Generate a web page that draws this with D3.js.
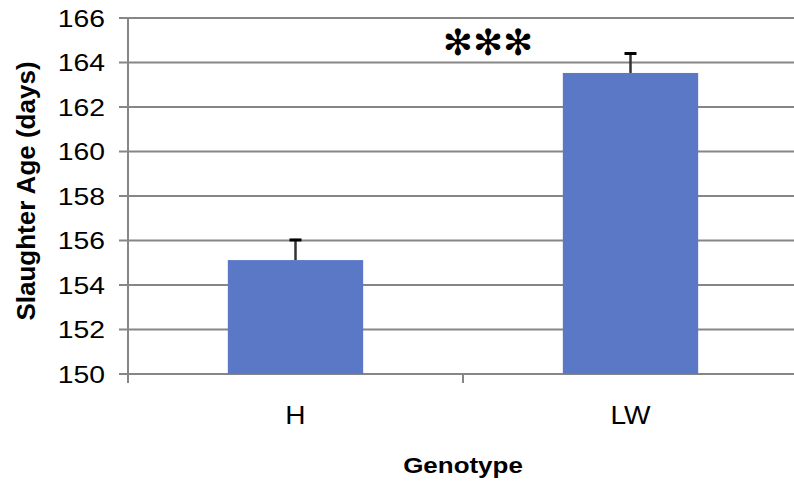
<!DOCTYPE html>
<html><head><meta charset="utf-8">
<script src="https://cdn.jsdelivr.net/npm/d3@7"></script>
<style>body{margin:0;background:#fff}svg{display:block}text{font-family:Arial,"Liberation Sans",sans-serif}</style>
</head><body>
<script>
const categories = ["H", "LW"];
const values = [155.12, 163.53];
const errors = [0.95, 0.92];
const yTicks = [150, 152, 154, 156, 158, 160, 162, 164, 166];
const yTitle = "Slaughter Age (days)";
const xTitle = "Genotype";
const significance = "✻✻✻";

(function () {
const W = 794, H = 485;
const svg = d3.select("body").append("svg").attr("width", W).attr("height", H);
const pLeft = 128, pRight = 798, pTop = 18, pBottom = 374;
const y = d3.scaleLinear().domain([150, 166]).range([pBottom, pTop]);
const x = d3.scaleBand().domain(categories).range([pLeft, pRight]).padding(0);
const barW = x.bandwidth() * 0.404;
const grid = "#868686";
const sx = 1.18;

svg.append("g").selectAll("line").data(yTicks).join("line")
  .attr("x1", pLeft - 9).attr("x2", pRight)
  .attr("y1", d => y(d)).attr("y2", d => y(d))
  .attr("stroke", grid).attr("stroke-width", 2);
svg.append("line").attr("x1", pLeft).attr("x2", pLeft).attr("y1", y(166)).attr("y2", pBottom + 9)
  .attr("stroke", grid).attr("stroke-width", 2);
const bounds = [x(categories[1])];
svg.append("g").selectAll("line").data(bounds).join("line")
  .attr("x1", d => d).attr("x2", d => d).attr("y1", pBottom).attr("y2", pBottom + 9)
  .attr("stroke", grid).attr("stroke-width", 2);

svg.append("g").selectAll("text").data(yTicks).join("text")
  .attr("transform", d => `translate(105,${y(d)}) scale(${sx},1)`)
  .attr("text-anchor", "end").attr("dy", "0.36em")
  .attr("font-size", 24).attr("fill", "#000").text(d => d);

svg.append("g").selectAll("rect").data(categories).join("rect")
  .attr("x", d => x(d) + x.bandwidth() / 2 - barW / 2)
  .attr("width", barW)
  .attr("y", (d, i) => y(values[i]))
  .attr("height", (d, i) => y(150) - y(values[i]))
  .attr("fill", "#5B78C6");

const eb = svg.append("g");
categories.forEach((c, i) => {
  const cx = x(c) + x.bandwidth() / 2;
  eb.append("line").attr("x1", cx).attr("x2", cx)
    .attr("y1", y(values[i])).attr("y2", y(values[i] + errors[i]))
    .attr("stroke", "#333").attr("stroke-width", 2.5);
  eb.append("line").attr("x1", cx - 6).attr("x2", cx + 6)
    .attr("y1", y(values[i] + errors[i]) + 1).attr("y2", y(values[i] + errors[i]) + 1)
    .attr("stroke", "#000").attr("stroke-width", 3);
});

svg.append("g").selectAll("text").data(categories).join("text")
  .attr("transform", d => `translate(${x(d) + x.bandwidth() / 2},424) scale(1.08,1)`)
  .attr("text-anchor", "middle").attr("font-size", 26).attr("fill", "#000").text(d => d);

svg.append("text").attr("transform", `translate(${x(categories[1])},473) scale(${sx},1)`)
  .attr("text-anchor", "middle").attr("font-size", 22).attr("font-weight", "bold").text(xTitle);

svg.append("text").attr("transform", "translate(35,191) rotate(-90)")
  .attr("text-anchor", "middle").attr("font-size", 26).attr("font-weight", "bold").text(yTitle);

svg.append("text").attr("x", 488).attr("y", 42).attr("dy", "0.35em")
  .attr("text-anchor", "middle").attr("font-size", 36)
  .style("font-family", "'DejaVu Sans'").attr("fill", "#000").text(significance);
})();
</script>
</body></html>
